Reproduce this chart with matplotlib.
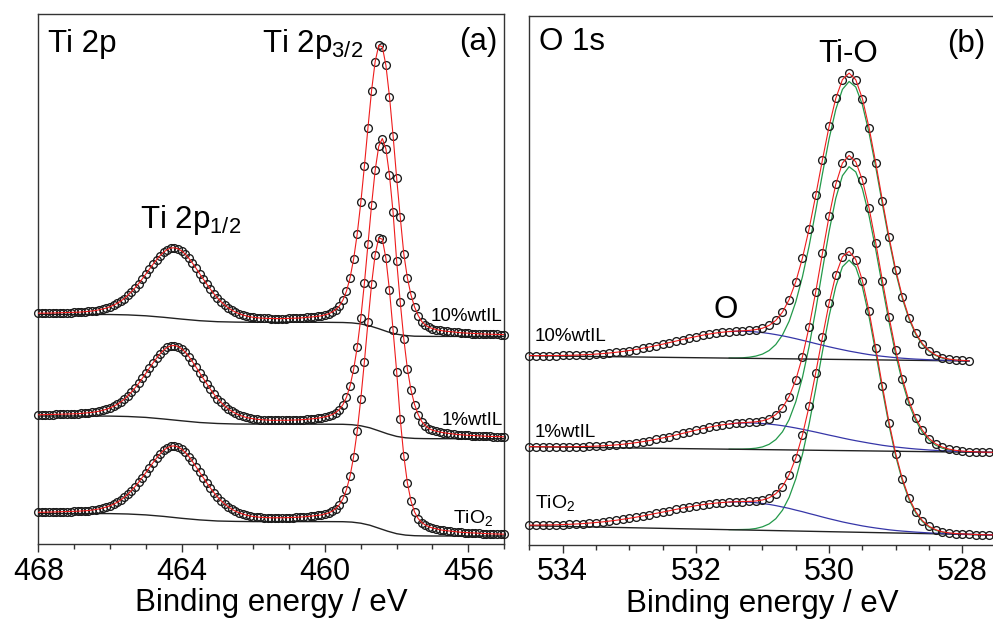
import numpy as np
import matplotlib
matplotlib.use("Agg")
import matplotlib.pyplot as plt
from matplotlib.ticker import MultipleLocator

plt.rcParams["font.family"] = ["Liberation Sans", "DejaVu Sans"]
plt.rcParams["mathtext.fontset"] = "custom"
plt.rcParams["mathtext.rm"] = "Liberation Sans"
plt.rcParams["mathtext.it"] = "Liberation Sans:italic"

# ------------------------------------------------------------
# Ti 2p spectra (panel a), 468.0 -> 455.0 eV, 0.1 eV steps
# intensities in arbitrary units, stacked as in the figure
# ------------------------------------------------------------
be_ti = np.linspace(468.0, 455.0, 131)

ti_tio2 = [31.7, 31.7, 31.8, 31.9, 31.9, 32.0, 32.1, 32.2, 32.3, 32.4,
           32.6, 32.8, 33.0, 33.2, 33.5, 33.9, 34.5, 35.1, 36.0, 37.0,
           38.3, 39.8, 41.7, 44.0, 46.7, 49.8, 53.5, 57.4, 61.8, 66.5,
           71.3, 76.4, 81.3, 86.0, 90.2, 93.7, 96.3, 97.8, 98.1, 97.0,
           94.8, 91.6, 87.5, 82.6, 77.3, 71.8, 66.5, 61.2, 56.1, 51.4,
           47.1, 43.3, 40.0, 37.2, 34.8, 32.8, 31.3, 30.0, 28.9, 28.1,
           27.5, 27.1, 26.7, 26.5, 26.3, 26.2, 26.2, 26.2, 26.2, 26.3,
           26.4, 26.5, 26.7, 26.9, 27.1, 27.4, 27.8, 28.2, 28.6, 29.1,
           30.1, 31.1, 32.8, 35.4, 39.2, 45.2, 54.4, 68.0, 87.4, 113.1,
           145.3, 182.4, 222.0, 259.8, 289.5, 306.1, 304.8, 285.8, 253.6, 213.8,
           172.5, 125.0, 88.0, 61.0, 43.0, 32.0, 25.5, 21.5, 19.0, 17.3,
           16.0, 15.3, 14.3, 13.7, 13.3, 12.8, 12.4, 12.1, 11.7, 11.5,
           11.2, 11.0, 10.8, 10.7, 10.5, 10.4, 10.2, 10.1, 10.0, 9.9, 9.8]

ti_1wt = [129.2, 129.3, 129.3, 129.4, 129.5, 129.6, 129.7, 129.8, 129.9, 130.0,
          130.2, 130.3, 130.6, 130.8, 131.2, 131.6, 132.2, 132.8, 133.7, 134.7,
          136.1, 137.7, 139.7, 142.0, 144.8, 148.1, 152.0, 156.1, 160.6, 165.6,
          170.6, 175.9, 181.0, 185.9, 190.3, 193.9, 196.7, 198.2, 198.5, 197.5,
          195.2, 191.9, 187.5, 182.4, 177.0, 171.3, 165.7, 160.2, 154.9, 150.0,
          145.5, 141.6, 138.1, 135.2, 132.7, 130.7, 129.1, 127.7, 126.6, 125.8,
          125.2, 124.7, 124.4, 124.1, 124.0, 123.7, 123.7, 123.6, 123.6, 123.7,
          123.8, 123.9, 124.0, 124.2, 124.4, 124.7, 125.0, 125.4, 125.8, 126.4,
          127.1, 128.1, 129.4, 131.4, 134.5, 139.3, 146.8, 158.1, 174.7, 197.0,
          226.0, 260.9, 299.7, 339.0, 373.7, 397.7, 405.5, 395.2, 368.7, 331.7,
          283.0, 242.0, 205.0, 175.0, 154.0, 139.5, 129.5, 122.5, 118.5, 115.5,
          113.8, 112.8, 112.0, 111.3, 110.8, 110.3, 109.9, 109.5, 109.2, 108.9,
          108.7, 108.5, 108.2, 108.1, 107.9, 107.7, 107.6, 107.5, 107.4, 107.3, 107.2]

ti_10wt = [230.8, 230.8, 230.9, 230.9, 231.0, 231.1, 231.2, 231.3, 231.4, 231.5,
           231.7, 231.8, 232.0, 232.3, 232.6, 233.0, 233.5, 234.2, 235.0, 236.0,
           237.3, 238.8, 240.7, 242.9, 245.5, 248.7, 252.3, 256.2, 260.5, 265.1,
           269.9, 274.9, 279.7, 284.3, 288.5, 291.9, 294.5, 296.0, 296.2, 295.2,
           293.1, 289.9, 285.8, 281.0, 275.8, 270.4, 265.1, 259.9, 254.9, 250.3,
           246.0, 242.3, 239.0, 236.2, 233.9, 231.9, 230.4, 229.1, 228.1, 227.3,
           226.7, 226.3, 225.9, 225.7, 225.6, 225.5, 225.4, 225.4, 225.4, 225.5,
           225.6, 225.7, 225.8, 226.0, 226.3, 226.6, 226.9, 227.3, 227.7, 228.2,
           229.2, 230.2, 231.9, 234.4, 238.0, 243.9, 252.9, 266.2, 285.1, 310.2,
           341.6, 377.8, 416.5, 453.4, 482.4, 498.6, 497.3, 478.7, 447.4, 408.4,
           366.0, 327.0, 290.0, 266.0, 249.0, 237.0, 228.5, 222.5, 219.0, 216.8,
           215.4, 214.5, 213.7, 213.1, 212.7, 212.3, 211.9, 211.6, 211.2, 211.0,
           210.8, 210.5, 210.4, 210.2, 210.0, 209.9, 209.8, 209.7, 209.6, 209.4, 209.4]

# Shirley-type backgrounds (black lines)
bg_be_ti = [468.0, 467.0, 466.0, 465.5, 465.0, 464.5, 464.0, 463.5, 463.0, 462.5, 462.0,
            460.0, 459.5, 459.25, 459.0, 458.75, 458.5, 458.25, 458.0, 457.75, 457.5,
            457.25, 457.0, 455.0]
bg_ti_tio2 = [30.5, 30.5, 30.4, 30.0, 29.1, 27.6, 25.7, 24.1, 23.0, 22.6, 22.4,
              22.4, 22.3, 21.9, 20.8, 18.8, 15.8, 12.8, 10.3, 8.9, 8.3, 8.1, 8.0, 8.0]
bg_ti_1wt = [128.0, 128.0, 127.9, 127.5, 126.6, 125.0, 123.2, 121.5, 120.5, 120.0, 119.9,
             119.8, 119.7, 119.3, 118.2, 116.2, 113.2, 110.1, 107.6, 106.2, 105.6, 105.4,
             105.3, 105.3]
bg_ti_10wt = [229.6, 229.6, 229.5, 229.1, 228.2, 226.7, 224.9, 223.3, 222.3, 221.9, 221.7,
              221.7, 221.5, 221.1, 220.1, 218.1, 215.3, 212.2, 209.8, 208.5, 207.8, 207.7,
              207.6, 207.6]

# ------------------------------------------------------------
# O 1s spectra (panel b), 534.5 -> 527.5 eV, 0.1 eV steps
# ------------------------------------------------------------
be_o = np.linspace(534.5, 527.5, 71)

o_tio2 = [19.9, 19.9, 20.0, 20.1, 20.2, 20.4, 20.7, 21.0, 21.4, 21.9,
          22.5, 23.1, 23.9, 24.7, 25.7, 26.7, 27.8, 29.0, 30.3, 31.6,
          32.9, 34.2, 35.6, 36.9, 38.1, 39.3, 40.3, 41.2, 41.9, 42.5,
          43.0, 43.3, 43.5, 43.6, 44.0, 45.0, 47.2, 51.3, 58.5, 70.2,
          87.0, 110.0, 138.8, 172.5, 207.9, 241.9, 270.0, 288.2, 293.7, 285.5,
          264.4, 233.6, 196.9, 158.8, 122.5, 91.2, 66.0, 47.0, 33.4, 24.4,
          18.7, 15.3, 13.2, 12.1, 11.5, 11.1, 10.8, 10.5, 10.3, 10.2, 10.0]

o_1wt = [98.4, 98.3, 98.3, 98.2, 98.2, 98.2, 98.3, 98.3, 98.5, 98.6,
         98.9, 99.2, 99.6, 100.1, 100.7, 101.5, 102.3, 103.3, 104.4, 105.7,
         107.0, 108.5, 110.0, 111.6, 113.2, 114.8, 116.3, 117.8, 119.1, 120.2,
         121.0, 121.8, 122.3, 122.7, 123.2, 124.2, 126.3, 130.4, 137.3, 148.5,
         165.2, 188.4, 218.1, 253.5, 291.8, 328.9, 360.7, 381.9, 389.6, 383.2,
         364.9, 336.8, 302.2, 264.4, 228.0, 194.6, 166.5, 143.7, 127.0, 114.8,
         106.5, 101.2, 97.9, 95.9, 94.6, 93.9, 93.5, 93.2, 92.9, 92.8, 92.7]

o_10wt = [189.5, 189.4, 189.4, 189.5, 189.5, 189.6, 189.7, 189.9, 190.2, 190.5,
          190.9, 191.4, 192.0, 192.7, 193.5, 194.5, 195.5, 196.7, 198.0, 199.4,
          200.8, 202.4, 203.9, 205.5, 207.0, 208.4, 209.8, 211.0, 212.0, 212.8,
          213.5, 213.9, 214.2, 214.6, 215.4, 216.8, 219.6, 224.6, 232.9, 245.4,
          263.3, 287.0, 316.2, 349.9, 385.2, 418.7, 446.6, 465.4, 471.9, 465.3,
          446.3, 417.2, 382.2, 344.4, 307.8, 275.1, 248.2, 227.4, 211.9, 201.4,
          194.4, 190.0, 187.4, 185.9, 185.0, 184.6, 184.2]

# fitted components from 531.5 eV downwards (Ti-O green, O blue), on top of background
o_tio2_tio = [15.4, 15.4, 15.5, 15.7, 16.5, 18.2, 21.1, 26.3, 34.8, 47.7,
              66.1, 90.6, 121.0, 156.3, 193.4, 228.9, 258.5, 278.2, 284.9, 277.9,
              258.0, 228.1, 192.3, 155.0, 119.4, 88.7, 64.0, 45.3, 32.1, 23.4,
              17.9, 14.7, 12.8, 11.7, 11.2, 10.9, 10.6, 10.4, 10.3, 10.1, 10.0]
o_tio2_o = [42.9, 43.1, 43.1, 42.8, 42.3, 41.5, 40.6, 39.4, 38.0, 36.6,
            34.9, 33.3, 31.5, 29.8, 28.0, 26.3, 24.7, 23.1, 21.7, 20.4,
            19.1, 18.0, 17.0, 16.1, 15.2, 14.5, 13.9, 13.4, 12.9, 12.5,
            12.1, 11.8, 11.5, 11.3, 11.1, 10.9, 10.7, 10.5, 10.3, 10.2, 10.0]
o_1wt_tio = [95.8, 95.8, 95.9, 96.2, 96.8, 98.1, 100.7, 105.4, 113.2, 125.4,
             143.2, 167.6, 198.6, 235.3, 275.1, 313.6, 346.7, 369.3, 378.3, 373.1,
             356.0, 329.0, 295.4, 258.6, 223.0, 190.3, 162.9, 140.7, 124.5, 112.7,
             104.8, 99.8, 96.8, 95.0, 93.9, 93.3, 93.0, 92.9, 92.7, 92.6, 92.5]
o_1wt_o = [121.0, 121.7, 122.0, 122.1, 121.9, 121.5, 120.9, 120.2, 119.3, 118.2,
           117.0, 115.7, 114.3, 112.9, 111.4, 109.9, 108.5, 107.0, 105.6, 104.3,
           103.1, 101.9, 100.8, 99.7, 98.8, 98.0, 97.3, 96.6, 96.0, 95.5,
           95.0, 94.6, 94.3, 94.0, 93.7, 93.5, 93.3, 93.1, 92.9, 92.8, 92.7]
o_10wt_tio = [187.0, 187.0, 187.2, 187.8, 188.9, 190.9, 194.5, 200.5, 210.0, 223.8,
              243.1, 268.3, 299.0, 334.4, 371.2, 406.2, 435.5, 455.6, 463.5, 458.0,
              440.1, 412.0, 377.8, 340.7, 304.8, 272.7, 246.2, 225.8, 210.6, 200.4,
              193.6, 189.4, 186.9, 185.5, 184.8, 184.4, 184.1]
o_10wt_o = [213.4, 213.7, 213.7, 213.5, 213.1, 212.4, 211.5, 210.4, 209.2, 207.8,
            206.3, 204.7, 203.1, 201.4, 199.8, 198.2, 196.7, 195.3, 193.9, 192.7,
            191.5, 190.4, 189.5, 188.7, 188.0, 187.3, 186.8, 186.3, 185.9, 185.6,
            185.3, 185.0, 184.8, 184.6, 184.4, 184.3, 184.1]

# linear backgrounds (start / end points)
bl_o_tio2 = ([534.5, 527.5], [19.3, 10.0])
bl_o_1wt = ([534.5, 527.5], [98.3, 92.5])
bl_o_10wt = ([534.5, 527.9], [189.3, 184.0])

# ------------------------------------------------------------
# Plot
# ------------------------------------------------------------
fig = plt.figure(figsize=(9.93, 6.25), dpi=100)
axa = fig.add_axes([0.0386, 0.1296, 0.4691, 0.848])
axb = fig.add_axes([0.533, 0.128, 0.4697, 0.8464])

red = "#ee1c1c"
green = "#23994a"
blue = "#3636a8"


def points_and_fit(ax, x, y):
    ax.plot(x, y, ls="none", marker="o", ms=5.6, mfc="none", mec="#1a1a1a",
            mew=0.95, clip_on=False, zorder=3)
    ax.plot(x, y, color=red, lw=0.8, zorder=4)


# panel (a)
for y, bg in [(ti_tio2, bg_ti_tio2), (ti_1wt, bg_ti_1wt), (ti_10wt, bg_ti_10wt)]:
    axa.plot(bg_be_ti, bg, color="#222222", lw=1.0, zorder=2)
    points_and_fit(axa, be_ti, y)

axa.set_xlim(468, 455)
axa.set_ylim(0, 530)
axa.xaxis.set_major_locator(MultipleLocator(4))
axa.xaxis.set_minor_locator(MultipleLocator(1))

axa.text(0.021, 0.929, "Ti 2p", transform=axa.transAxes, fontsize=22.5)
axa.text(0.985, 0.932, "(a)", transform=axa.transAxes, fontsize=22.5, ha="right")
axa.text(0.480, 0.928, r"Ti 2p$_{\mathrm{3/2}}$", transform=axa.transAxes, fontsize=22.5)
axa.text(0.219, 0.596, r"Ti 2p$_{\mathrm{1/2}}$", transform=axa.transAxes, fontsize=22.5)
axa.text(0.842, 0.421, "10%wtIL", transform=axa.transAxes, fontsize=13.5)
axa.text(0.866, 0.2245, "1%wtIL", transform=axa.transAxes, fontsize=13.5)
axa.text(0.890, 0.040, r"TiO$_2$", transform=axa.transAxes, fontsize=14)

# panel (b)
for y, tio, o, bl in [(o_tio2, o_tio2_tio, o_tio2_o, bl_o_tio2),
                      (o_1wt, o_1wt_tio, o_1wt_o, bl_o_1wt),
                      (o_10wt, o_10wt_tio, o_10wt_o, bl_o_10wt)]:
    xc = be_o[30:30 + len(tio)]
    axb.plot(xc, tio, color=green, lw=0.9, zorder=2)
    axb.plot(bl[0], bl[1], color="#222222", lw=1.0, zorder=2.2)
    axb.plot(xc, o, color=blue, lw=0.9, zorder=2.4)
    points_and_fit(axb, be_o[:len(y)], y)

axb.set_xlim(534.5, 527.5)
axb.set_ylim(0, 529)
axb.xaxis.set_major_locator(MultipleLocator(2))
axb.xaxis.set_minor_locator(MultipleLocator(0.5))
axb.spines["right"].set_visible(False)

axb.text(0.021, 0.936, "O 1s", transform=axb.transAxes, fontsize=22.5)
axb.text(0.977, 0.932, "(b)", transform=axb.transAxes, fontsize=22.5, ha="right")
axb.text(0.619, 0.9136, "Ti-O", transform=axb.transAxes, fontsize=22.5)
axb.text(0.394, 0.4285, "O", transform=axb.transAxes, fontsize=22.5)
axb.text(0.0122, 0.386, "10%wtIL", transform=axb.transAxes, fontsize=13.5)
axb.text(0.0122, 0.2035, "1%wtIL", transform=axb.transAxes, fontsize=13.5)
axb.text(0.0122, 0.0693, r"TiO$_2$", transform=axb.transAxes, fontsize=14)

for ax in (axa, axb):
    ax.set_yticks([])
    ax.set_xlabel("Binding energy / eV", fontsize=22.5, labelpad=1)
    ax.tick_params(axis="x", which="major", direction="out", length=6, width=1.0,
                   labelsize=22, pad=3, color="#333333")
    ax.tick_params(axis="x", which="minor", direction="out", length=3.5, width=1.0,
                   color="#333333")
    for s in ax.spines.values():
        s.set_color("#333333")
        s.set_linewidth(1.0)

fig.savefig("out.png", dpi=100)
